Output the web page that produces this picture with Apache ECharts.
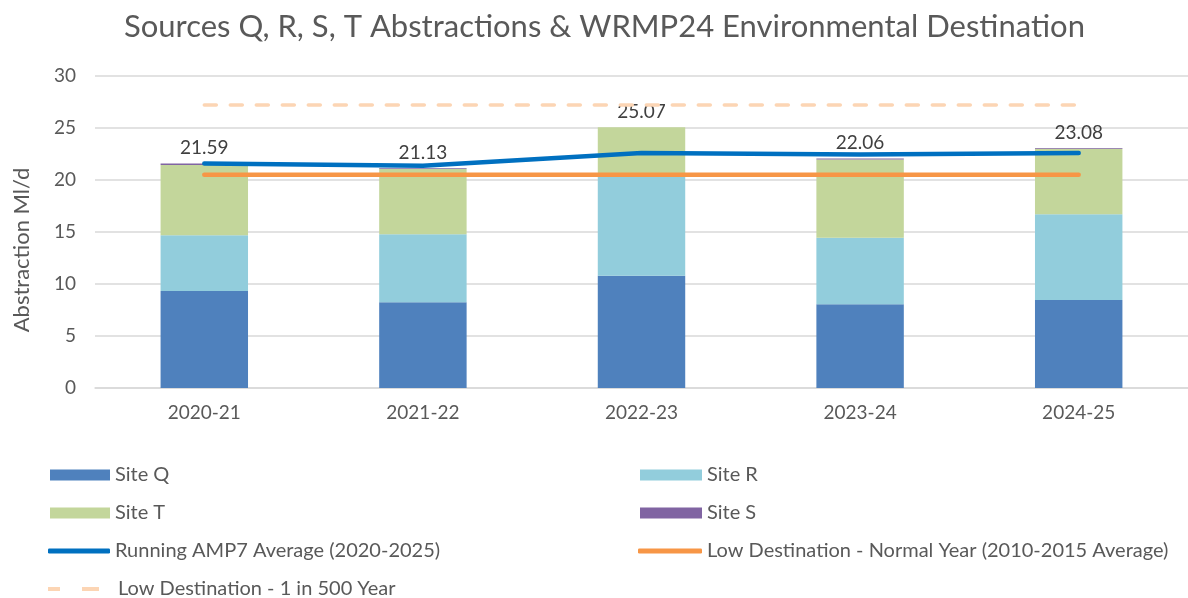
<!DOCTYPE html>
<html>
<head>
<meta charset="utf-8">
<script src="https://cdn.jsdelivr.net/npm/echarts@6/dist/echarts.min.js"></script>
<style>
  html, body { margin: 0; padding: 0; background: #fff; }
  #main { width: 1188px; height: 598px; }
</style>
</head>
<body>
<div id="main"></div>
<script>
const years = ["2020-21", "2021-22", "2022-23", "2023-24", "2024-25"]
const siteQ = [9.33, 8.24, 10.80, 8.05, 8.46]
const siteR = [5.35, 6.54, 9.58, 6.40, 8.24]
const siteT = [6.76, 6.27, 4.69, 7.51, 6.30]
const siteS = [0.15, 0.08, 0, 0.10, 0.08]
const totals = [21.59, 21.13, 25.07, 22.06, 23.08]
const runningAvg = [21.59, 21.36, 22.60, 22.46, 22.59]
const normalYear = [20.5, 20.5, 20.5, 20.5, 20.5]
const oneIn500 = [27.2, 27.2, 27.2, 27.2, 27.2]
const yTicks = { min: 0, max: 30, interval: 5 }

const font = "Lato, 'Open Sans', sans-serif"
const textColor = "#595959"

const NAME_RUN = "Running AMP7 Average (2020-2025)"
const NAME_NORMAL = "Low Destination - Normal Year (2010-2015 Average)"
const NAME_500 = "Low Destination - 1 in 500 Year"

let chart = echarts.init(document.getElementById("main"))

function barSeries (name, data, color) {
  return {
    name: name,
    type: "bar",
    stack: "total",
    barWidth: "40%",
    data: data,
    itemStyle: { color: color },
    emphasis: { disabled: true }
  }
}

// one legend per item so the two columns line up like the original
function legendItem (name, left, centerY, icon, w, h, padLeft) {
  return {
    left: left,
    top: centerY - 11,
    padding: 0,
    itemWidth: w,
    itemHeight: h,
    icon: icon,
    selectedMode: false,
    textStyle: {
      fontFamily: font,
      fontSize: 20,
      lineHeight: 22,
      color: textColor,
      padding: [0, 0, 0, padLeft || 0]
    },
    data: [name]
  }
}

let sSeries = barSeries("Site S", siteS, "#8064a2")
sSeries.label = {
  show: true,
  position: "top",
  distance: 6,
  fontFamily: font,
  fontSize: 19,
  color: "#404040",
  formatter: p => totals[p.dataIndex].toFixed(2)
}

let option = {
  animation: false,
  title: {
    text: "Sources Q, R, S, T Abstractions & WRMP24 Environmental Destination",
    left: 119,
    top: 6,
    textStyle: { fontFamily: font, fontSize: 31, fontWeight: "normal", color: textColor }
  },
  grid: { left: 95, right: -7, top: 76, bottom: 210 },
  xAxis: {
    type: "category",
    data: years,
    axisTick: { show: false },
    axisLine: { lineStyle: { color: "#d9d9d9", width: 1.5 } },
    axisLabel: { fontFamily: font, fontSize: 19, color: textColor, margin: 15 }
  },
  yAxis: {
    type: "value",
    min: yTicks.min,
    max: yTicks.max,
    interval: yTicks.interval,
    name: "Abstraction Ml/d",
    nameLocation: "middle",
    nameGap: 62,
    nameTextStyle: { fontFamily: font, fontSize: 22, color: textColor, padding: [0, 36, 0, 0] },
    axisLabel: { fontFamily: font, fontSize: 19, color: textColor, margin: 19 },
    splitLine: { lineStyle: { color: "#d9d9d9", width: 1.5 } }
  },
  legend: [
    legendItem("Site Q", 50, 475, "rect", 60, 11),
    legendItem("Site R", 640, 475, "rect", 62, 11),
    legendItem("Site T", 50, 513, "rect", 60, 11),
    legendItem("Site S", 640, 513, "rect", 62, 11),
    legendItem(NAME_RUN, 48, 551, "roundRect", 62, 5),
    legendItem(NAME_NORMAL, 638, 551, "roundRect", 64, 5),
    legendItem(NAME_500, 48, 589, "path://M0,0h12v4h-12zM34,0h17v4h-17z", 51, 4, 14)
  ],
  series: [
    barSeries("Site Q", siteQ, "#4f81bd"),
    barSeries("Site R", siteR, "#92cddc"),
    barSeries("Site T", siteT, "#c3d69b"),
    sSeries,
    {
      name: NAME_RUN,
      type: "line",
      data: runningAvg,
      symbol: "none",
      lineStyle: { color: "#0070c0", width: 4.5, cap: "round" },
      itemStyle: { color: "#0070c0" },
      z: 5
    },
    {
      name: NAME_NORMAL,
      type: "line",
      data: normalYear,
      symbol: "none",
      lineStyle: { color: "#f79646", width: 4.5, cap: "round" },
      itemStyle: { color: "#f79646" },
      z: 4
    },
    {
      name: NAME_500,
      type: "line",
      data: oneIn500,
      symbol: "none",
      lineStyle: { color: "#fcd5b4", width: 3.5, type: [12, 14], cap: "round" },
      itemStyle: { color: "#fcd5b4" },
      z: 4
    }
  ]
}

chart.setOption(option)
</script>
</body>
</html>
